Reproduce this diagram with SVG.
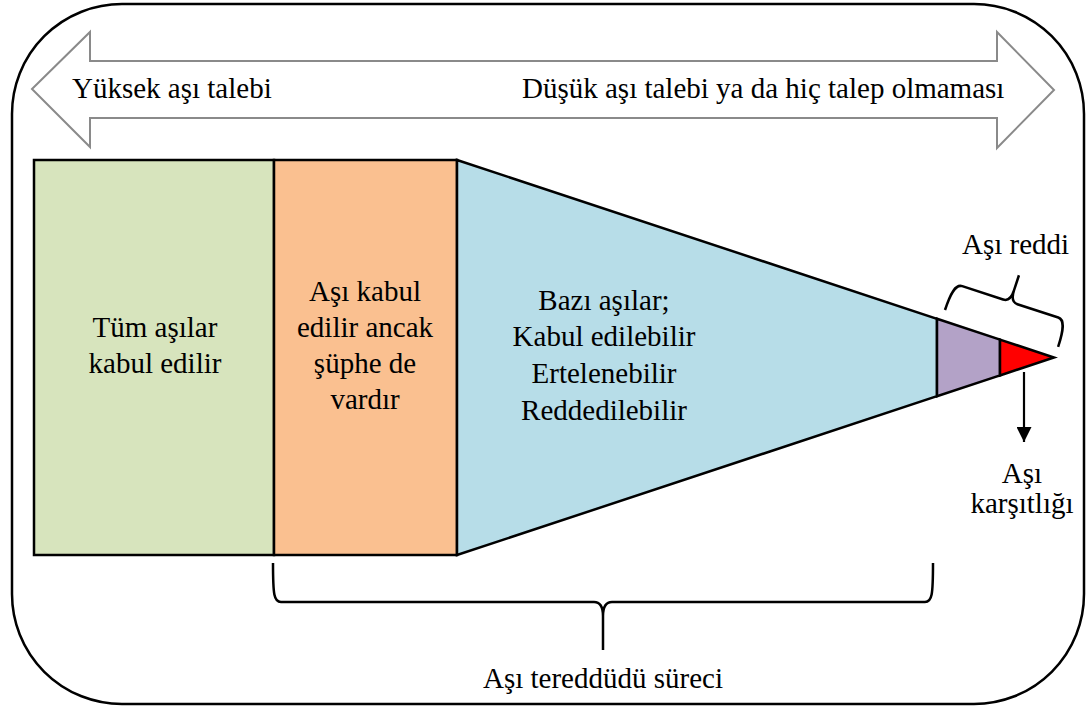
<svg xmlns="http://www.w3.org/2000/svg" width="1089" height="710" viewBox="0 0 1089 710">
<defs>
<style>
text{font-family:"Liberation Serif","Times New Roman",serif;font-size:29px;fill:#000}
.c{text-anchor:middle}
.box{stroke:#000;stroke-width:2.5;stroke-linejoin:miter}
.br{fill:none;stroke:#000;stroke-width:2.5}
</style>
<marker id="ah" viewBox="0 0 15 15" refX="15" refY="7.5" markerWidth="15" markerHeight="15" markerUnits="userSpaceOnUse" orient="auto">
<path d="M0,0 L15,7.5 L0,15 z" fill="#000"/>
</marker>
</defs>
<rect width="1089" height="710" fill="#fff"/>
<rect id="frame" x="12" y="4" width="1072" height="700" rx="110" ry="110" fill="none" stroke="#000" stroke-width="2.5"/>
<g id="demand-arrow">
<polygon points="32,89 90,32 90,61 997,61 997,32 1054,90 997,148 997,118 90,118 90,147" fill="#fff" stroke="#8a8a8a" stroke-width="2"/>
<text x="72" y="98">Yüksek aşı talebi</text>
<text x="522" y="98">Düşük aşı talebi ya da hiç talep olmaması</text>
</g>
<g id="node-all">
<rect class="box" x="34" y="160" width="240" height="395" fill="#D7E4BD"/>
<text class="c" x="155" y="337">Tüm aşılar</text>
<text class="c" x="155" y="373">kabul edilir</text>
</g>
<g id="node-doubt">
<rect class="box" x="274" y="160" width="183" height="395" fill="#FAC090"/>
<text class="c" x="365" y="301">Aşı kabul</text>
<text class="c" x="365" y="337">edilir ancak</text>
<text class="c" x="365" y="373">şüphe de</text>
<text class="c" x="365" y="409">vardır</text>
</g>
<g id="node-some">
<polygon class="box" points="457,160 937,318.8 937,396.2 457,555" fill="#B7DDE8"/>
<text class="c" x="604" y="310">Bazı aşılar;</text>
<text class="c" x="604" y="346">Kabul edilebilir</text>
<text class="c" x="604" y="383">Ertelenebilir</text>
<text class="c" x="604" y="420">Reddedilebilir</text>
</g>
<g id="node-refusal">
<polygon class="box" points="937,318.8 1000,339.6 1000,375.4 937,396.2" fill="#B3A2C7"/>
</g>
<g id="node-opposition">
<polygon class="box" points="1000,339.6 1054,357.5 1000,375.4" fill="#FF0000"/>
</g>
<g id="connectors">
<path class="br" transform="translate(945,310) rotate(18.1)" d="M0,0 C0,-18 2,-28 9,-28 L52,-28 C57,-28 59.5,-32 59.5,-40 L59.5,-56 M59.5,-40 C59.5,-32 62,-28 67,-28 L110,-28 C117,-28 119,-18 119,0"/>
<path class="br" d="M273,563 C273,595 274,602 281,602 L594,602 C600,602 603,606 603,616 L603,650 M603,616 C603,606 606,602 612,602 L925,602 C932,602 933,595 933,563"/>
<line x1="1024" y1="372" x2="1024" y2="442" stroke="#000" stroke-width="2.2" marker-end="url(#ah)"/>
</g>
<g id="labels">
<text x="962" y="254">Aşı reddi</text>
<text class="c" x="1022" y="483">Aşı</text>
<text class="c" x="1022" y="513">karşıtlığı</text>
<text class="c" x="603" y="688">Aşı tereddüdü süreci</text>
</g>
</svg>
